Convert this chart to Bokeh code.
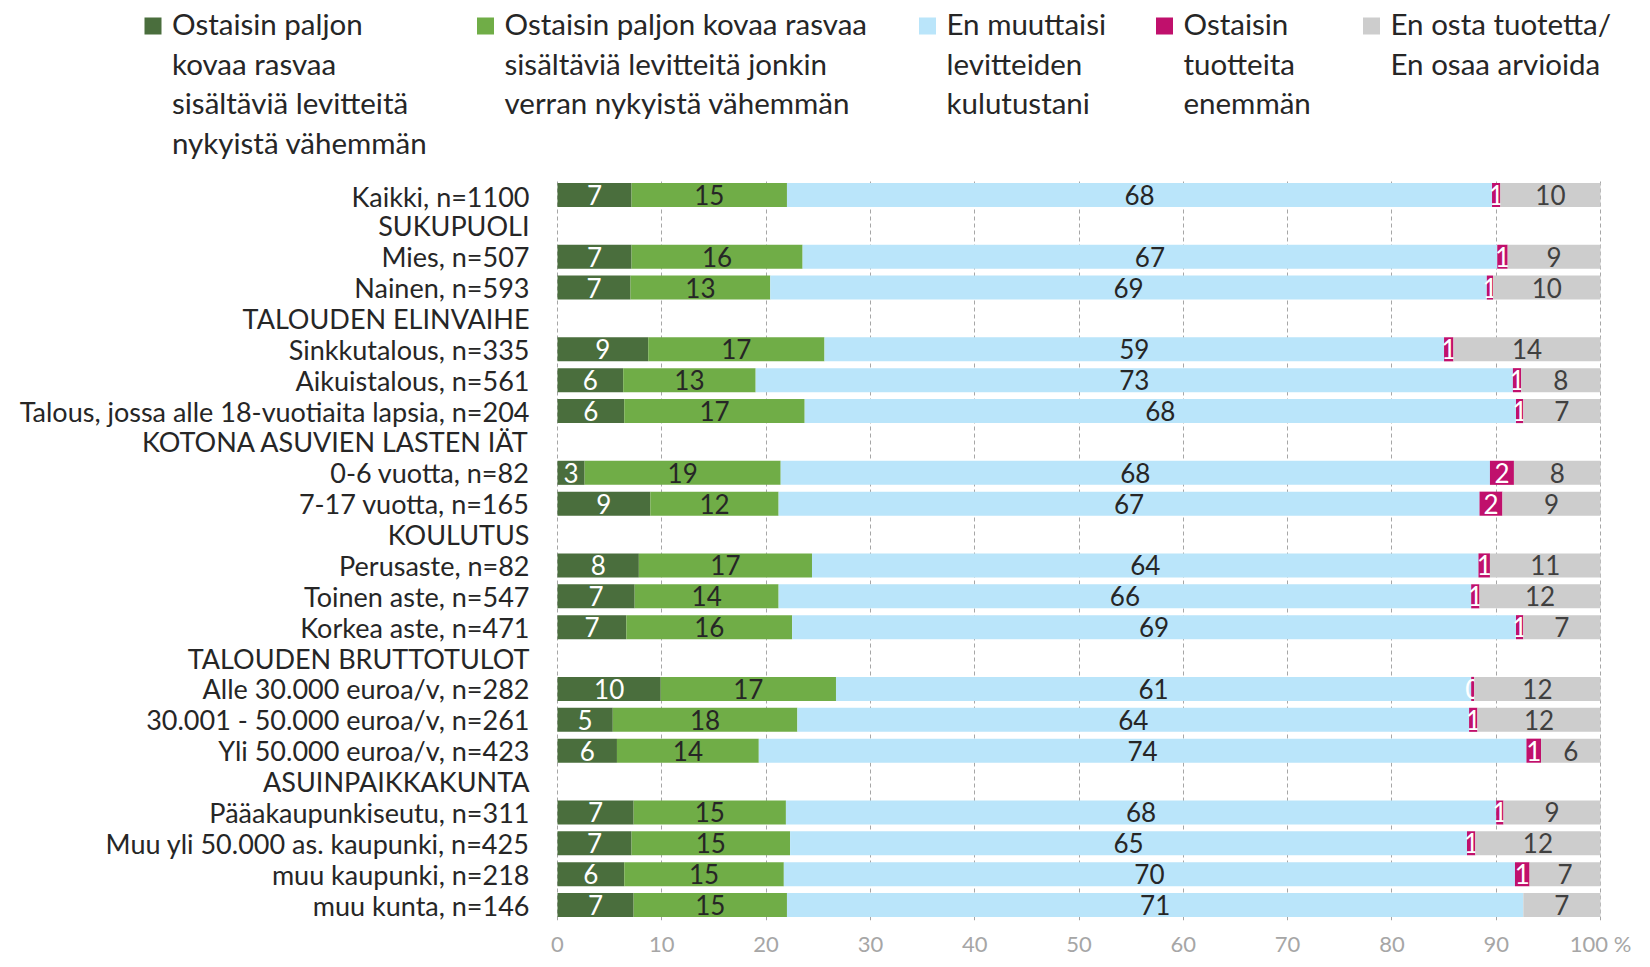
import math
from bokeh.plotting import figure
from bokeh.layouts import column
from bokeh.models import ColumnDataSource, FactorRange, Range1d, FixedTicker
from bokeh.core.properties import value
from bokeh.embed import file_html
from bokeh.resources import INLINE

FONT = "Lato"

rows = ["Kaikki, n=1100", "SUKUPUOLI", "Mies, n=507", "Nainen, n=593",
        "TALOUDEN ELINVAIHE", "Sinkkutalous, n=335", "Aikuistalous, n=561",
        "Talous, jossa alle 18-vuotiaita lapsia, n=204",
        "KOTONA ASUVIEN LASTEN IÄT", "0-6 vuotta, n=82", "7-17 vuotta, n=165",
        "KOULUTUS", "Perusaste, n=82", "Toinen aste, n=547", "Korkea aste, n=471",
        "TALOUDEN BRUTTOTULOT", "Alle 30.000 euroa/v, n=282",
        "30.001 - 50.000 euroa/v, n=261", "Yli 50.000 euroa/v, n=423",
        "ASUINPAIKKAKUNTA", "Pääakaupunkiseutu, n=311",
        "Muu yli 50.000 as. kaupunki, n=425", "muu kaupunki, n=218",
        "muu kunta, n=146"]

much_less = [7.1, None, 7.1, 7.0, None, 8.7, 6.3, 6.4, None, 2.6, 8.9, None,
             7.8, 7.4, 6.6, None, 9.9, 5.3, 5.7, None, 7.3, 7.1, 6.4, 7.3]
some_less = [14.9, None, 16.4, 13.4, None, 16.9, 12.7, 17.3, None, 18.8, 12.3, None,
             16.6, 13.8, 15.9, None, 16.8, 17.7, 13.6, None, 14.6, 15.2, 15.3, 14.7]
no_change = [67.6, None, 66.6, 68.7, None, 59.4, 72.6, 68.2, None, 68.0, 67.2, None,
             63.9, 66.4, 69.4, None, 60.9, 64.4, 73.6, None, 68.1, 64.9, 70.1, 70.6]
more = [0.8, None, 1.0, 0.6, None, 0.9, 0.8, 0.7, None, 2.3, 2.2, None,
        1.1, 0.8, 0.7, None, 0.3, 0.8, 1.4, None, 0.7, 0.8, 1.4, 0.0]
dont_buy = [9.6, None, 8.9, 10.3, None, 14.1, 7.6, 7.4, None, 8.3, 9.4, None,
            10.6, 11.6, 7.4, None, 12.1, 11.8, 5.7, None, 9.3, 12.0, 6.8, 7.4]

series_names = [
    "Ostaisin paljon\nkovaa rasvaa\nsisältäviä levitteitä\nnykyistä vähemmän",
    "Ostaisin paljon kovaa rasvaa\nsisältäviä levitteitä jonkin\nverran nykyistä vähemmän",
    "En muuttaisi\nlevitteiden\nkulutustani",
    "Ostaisin\ntuotteita\nenemmän",
    "En osta tuotetta/\nEn osaa arvioida",
]
series_values = [much_less, some_less, no_change, more, dont_buy]
colors = ["#4A6E3D", "#70AD47", "#BAE5FA", "#C0106C", "#CDCDCD"]
label_colors = ["#FFFFFF", "#262626", "#262626", "#FFFFFF", "#404040"]

W = 1640
LEG_H = 179
MAIN_H = 780
PX0 = 557            # pixel position of value 0
PX_PER_UNIT = 10.43  # pixels per percentage point

# ---------------- main chart ----------------
x_start = -PX0 / PX_PER_UNIT
x_end = x_start + W / PX_PER_UNIT
p = figure(width=W, height=MAIN_H, y_range=FactorRange(*reversed(rows)),
           x_range=Range1d(x_start, x_end), output_backend="svg",
           toolbar_location=None, min_border_left=0, min_border_right=0,
           min_border_top=0, min_border_bottom=37)
p.outline_line_color = None

cum = [0.0] * len(rows)
for vals, col, lcol in zip(series_values, colors, label_colors):
    left, right, mid, txt, ly = [], [], [], [], []
    for i, v in enumerate(vals):
        if v is None:
            left.append(math.nan); right.append(math.nan)
            continue
        left.append(cum[i]); right.append(cum[i] + v)
        if v > 0:
            mid.append(cum[i] + v / 2); ly.append(rows[i]); txt.append(str(int(round(v))))
        cum[i] += v
    src = ColumnDataSource(dict(y=rows, left=left, right=right))
    p.hbar(y="y", left="left", right="right", height=0.78, source=src,
           fill_color=col, line_color=None)
    lsrc = ColumnDataSource(dict(x=mid, y=ly, t=txt))
    p.text(x="x", y="y", text="t", source=lsrc, text_align="center",
           text_baseline="middle", text_font=value(FONT), text_font_size="26px",
           text_color=lcol)

p.xaxis.ticker = FixedTicker(ticks=list(range(0, 101, 10)))
p.xaxis.major_label_overrides = {100: "100 %"}
p.xaxis.axis_line_color = None
p.xaxis.major_tick_line_color = None
p.xaxis.minor_tick_line_color = None
p.xaxis.major_tick_out = 0
p.xaxis.major_tick_in = 0
p.xaxis.major_label_standoff = 9
p.xaxis.major_label_text_font = FONT
p.xaxis.major_label_text_font_size = "22px"
p.xaxis.major_label_text_color = "#A6A6A6"

p.yaxis.fixed_location = 0
p.yaxis.axis_line_color = None
p.yaxis.major_tick_line_color = None
p.yaxis.major_tick_out = 0
p.yaxis.major_tick_in = 0
p.yaxis.major_label_standoff = 28
p.yaxis.major_label_text_font = FONT
p.yaxis.major_label_text_font_size = "27px"
p.yaxis.major_label_text_color = "#262626"

p.xgrid.grid_line_color = "#A6A6A6"
p.xgrid.grid_line_dash = "4 3"
p.xgrid.grid_line_width = 1
p.ygrid.visible = False

# ---------------- legend strip (pixel coordinates, y downwards) ----------------
lg = figure(width=W, height=LEG_H, x_range=Range1d(0, W), y_range=Range1d(LEG_H, 0),
            x_axis_type=None, y_axis_type=None, output_backend="svg",
            toolbar_location=None, min_border=0)
lg.outline_line_color = None
lg.grid.visible = False

leg_text_x = [171.5, 504, 946, 1183, 1390]
sw_left = [x - 27.5 for x in leg_text_x]
sw_right = [x + 17 for x in sw_left]
lg.quad(left=sw_left, right=sw_right, top=[17] * 5, bottom=[34] * 5,
        fill_color=colors, line_color=None)
lg.text(x=leg_text_x, y=[5.5] * 5, text=series_names, text_baseline="top",
        text_align="left", text_font=value(FONT), text_font_size="29.5px",
        text_line_height=1.13, text_color="#262626")

layout = column(lg, p, spacing=0)
open("out.html", "w").write(file_html(layout, INLINE))
